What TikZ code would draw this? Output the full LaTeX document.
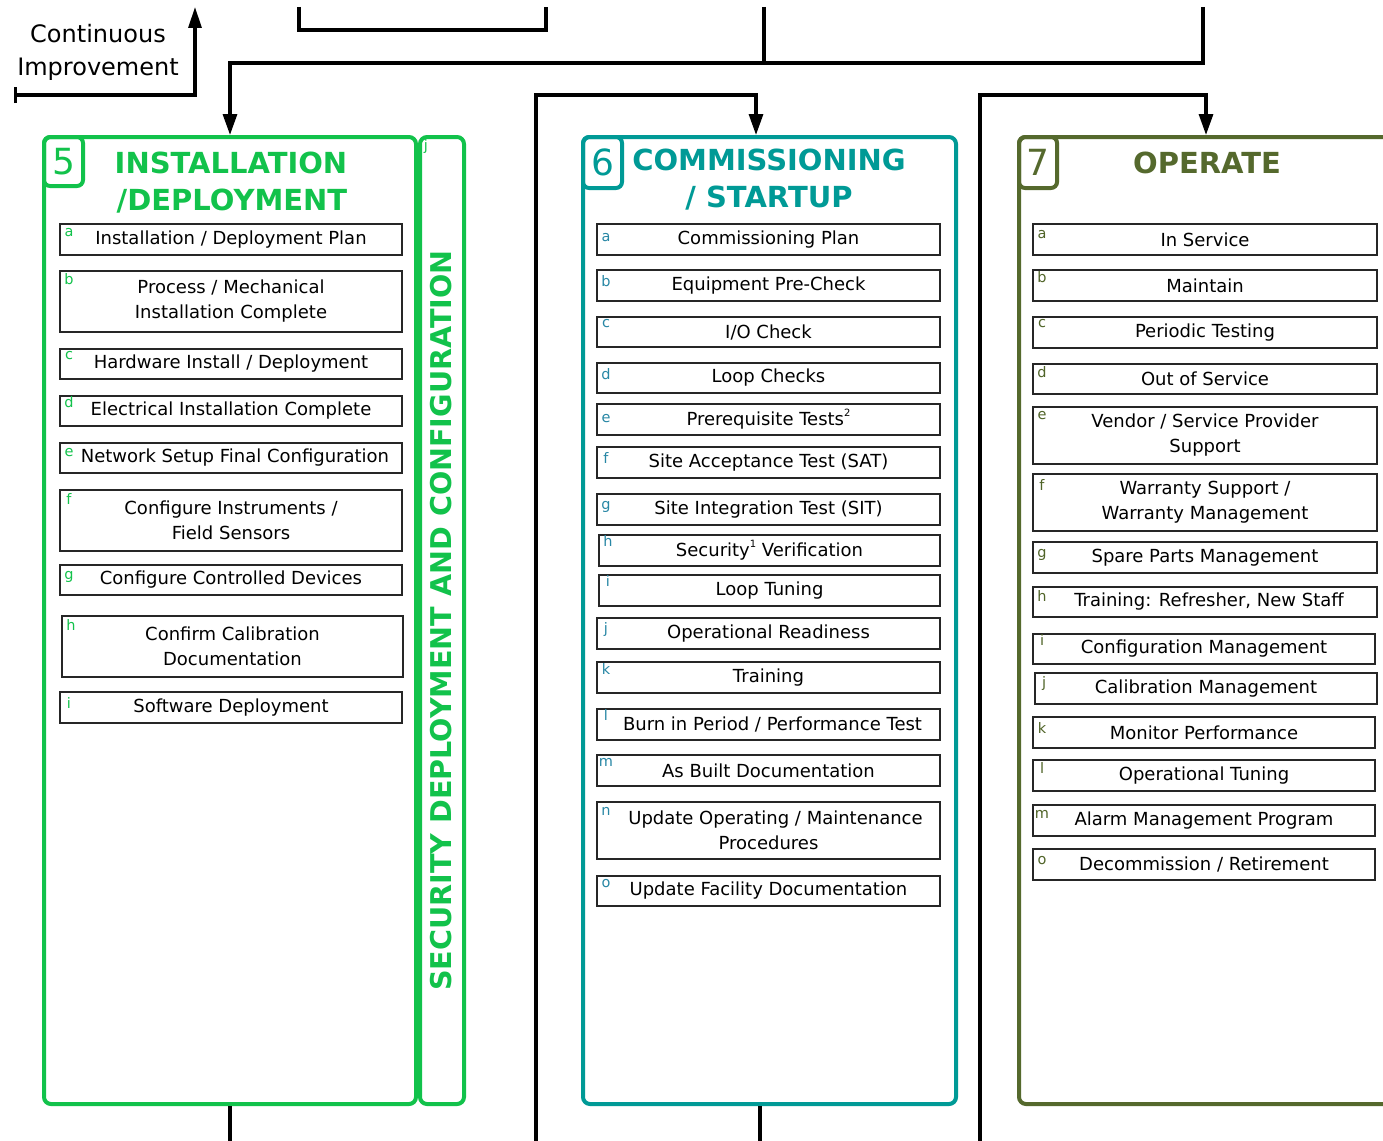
\documentclass[tikz,border=0pt]{standalone}
\usepackage{fontspec}
\setmainfont{DejaVu Sans}
\usetikzlibrary{arrows.meta,calc}
\definecolor{cgreen}{RGB}{18,194,75}
\definecolor{cteal}{RGB}{0,154,150}
\definecolor{colive}{RGB}{85,105,45}
\definecolor{lteal}{RGB}{40,135,165}
\definecolor{lolive}{RGB}{80,100,40}
\newcommand\itemfont{\fontsize{18}{25}\selectfont}
\newcommand\headfont{\fontsize{29}{37}\selectfont\bfseries}
\newcommand\supr[1]{\raisebox{0.5em}{\fontsize{10}{10}\selectfont #1}}
\newcommand\mkitem[8]{%
  \node[itembox, minimum width={(#4-#2)*1pt}, minimum height={(#5-#3)*1pt}] (#1) at ({(#2+#4)/2},{(#3+#5)/2}) {#8};
  \node[lettr] (#1l) at ({#2+9},{#3+#7}) {#6};
}
\begin{document}
\begin{tikzpicture}[x=1pt,y=-1pt,
  itembox/.style={draw=black!85, line width=1.5pt, inner sep=0pt, align=center, font=\itemfont},
  lettr/.style={anchor=mid, inner sep=0pt, font=\fontsize{14.5}{14.5}\selectfont},
  bigbox/.style={draw, line width=4pt, rounded corners=7pt, inner sep=0pt},
  numbox/.style={draw, line width=4pt, rounded corners=6pt, inner sep=0pt, font=\fontsize{36}{36}\selectfont},
  conn/.style={draw=black, line width=3.2pt},
  arr/.style={-{Triangle[length=21pt,width=14pt]}},
  head/.style={anchor=base, font=\headfont, inner sep=0pt},
]
\useasboundingbox (0,0) rectangle (1383,1140);
\clip (0,0) rectangle (1383,1140);
\fill[white] (0,0) rectangle (1383,1140);

% ---------- column 5 ----------
\node[bigbox, draw=cgreen, minimum width=372pt, minimum height=967pt] (box5) at (230,620.5) {};
\node[bigbox, draw=cgreen, minimum width=44pt, minimum height=967pt] (side5) at (442,620.5) {};
\node[numbox, draw=cgreen, text=cgreen, minimum width=39pt, minimum height=49pt] (n5) at (63.5,161.5) {5};
\node[head, text=cgreen] (h5a) at (231,173) {INSTALLATION};
\node[head, text=cgreen] (h5b) at (232,210) {/DEPLOYMENT};
\node[lettr, text=cgreen] (j5) at (426,148) {j};
\node[rotate=90, text=cgreen, font=\fontsize{28.6}{28.6}\selectfont\bfseries, inner sep=0pt] (sec) at (441,620.5) {SECURITY DEPLOYMENT AND CONFIGURATION};
\begin{scope}[lettr/.append style={text=cgreen}]
\mkitem{a5}{60}{224}{402}{255}{a}{10}{Installation / Deployment Plan}
\mkitem{b5}{60}{271}{402}{332}{b}{11}{Process / Mechanical\\Installation Complete}
\mkitem{c5}{60}{349}{402}{379}{c}{8}{Hardware Install / Deployment}
\mkitem{d5}{60}{396}{402}{426}{d}{9}{Electrical Installation Complete}
\mkitem{e5}{60}{443}{402}{473}{e}{11}{\hspace{8pt}Network Setup Final Configuration}
\mkitem{f5}{60}{490}{402}{551}{f}{12}{Configure Instruments /\\Field Sensors}
\mkitem{g5}{60}{565}{402}{595}{g}{12}{Configure Controlled Devices}
\mkitem{h5}{62}{616}{403}{677}{h}{12}{Confirm Calibration\\Documentation}
\mkitem{i5}{60}{692}{402}{723}{i}{14}{Software Deployment}
\end{scope}

% ---------- column 6 ----------
\node[bigbox, draw=cteal, minimum width=373pt, minimum height=967pt] (box6) at (769.5,620.5) {};
\node[numbox, draw=cteal, text=cteal, minimum width=39pt, minimum height=51pt] (n6) at (602.5,162.5) {6};
\node[head, text=cteal] (h6a) at (769,170) {COMMISSIONING};
\node[head, text=cteal] (h6b) at (769,207) {/ STARTUP};
\begin{scope}[lettr/.append style={text=lteal}]
\mkitem{a6}{597}{224}{940}{255}{a}{15}{Commissioning Plan}
\mkitem{b6}{597}{270}{940}{301}{b}{14}{Equipment Pre-Check}
\mkitem{c6}{597}{317}{940}{347}{c}{8}{I/O Check}
\mkitem{d6}{597}{363}{940}{393}{d}{14}{Loop Checks}
\mkitem{e6}{597}{404}{940}{435}{e}{16}{Prerequisite Tests\supr{2}}
\mkitem{f6}{597}{447}{940}{478}{f}{14}{Site Acceptance Test (SAT)}
\mkitem{g6}{597}{494}{940}{525}{g}{13}{Site Integration Test (SIT)}
\mkitem{h6}{599}{535}{940}{566}{h}{9}{Security\supr{1} Verification}
\mkitem{i6}{599}{575}{940}{606}{i}{9}{Loop Tuning}
\mkitem{j6}{597}{618}{940}{649}{j}{13}{Operational Readiness}
\mkitem{k6}{597}{662}{940}{693}{k}{10}{Training}
\mkitem{l6}{597}{709}{940}{740}{l}{9}{\hspace{8pt}Burn in Period / Performance Test}
\mkitem{m6}{597}{755}{940}{786}{m}{9}{As Built Documentation}
\mkitem{n6}{597}{802}{940}{859}{n}{11}{\hspace{14pt}Update Operating / Maintenance\\Procedures}
\mkitem{o6}{597}{876}{940}{906}{o}{9}{Update Facility Documentation}
\end{scope}

% ---------- column 7 ----------
\node[bigbox, draw=colive, minimum width=420pt, minimum height=967pt] (box7) at (1229,620.5) {};
\node[numbox, draw=colive, text=colive, minimum width=38pt, minimum height=51pt] (n7) at (1038,162.5) {7};
\node[head, text=colive] (h7a) at (1207,173) {OPERATE};
\begin{scope}[lettr/.append style={text=lolive}]
\mkitem{a7}{1033}{224}{1377}{255}{a}{12}{In Service}
\mkitem{b7}{1033}{270}{1377}{301}{b}{10}{Maintain}
\mkitem{c7}{1033}{317}{1377}{348}{c}{8}{Periodic Testing}
\mkitem{d7}{1033}{364}{1377}{394}{d}{11}{Out of Service}
\mkitem{e7}{1033}{407}{1377}{464}{e}{10}{Vendor / Service Provider\\Support}
\mkitem{f7}{1033}{474}{1377}{531}{f}{14}{Warranty Support /\\Warranty Management}
\mkitem{g7}{1033}{542}{1377}{573}{g}{13}{Spare Parts Management}
\mkitem{h7}{1033}{587}{1377}{617}{h}{12}{\hspace{8pt}Training: Refresher, New Staff}
\mkitem{i7}{1033}{634}{1375}{664}{i}{9}{Configuration Management}
\mkitem{j7}{1035}{673}{1377}{704}{j}{12}{Calibration Management}
\mkitem{k7}{1033}{717}{1375}{748}{k}{14}{Monitor Performance}
\mkitem{l7}{1033}{760}{1375}{791}{l}{11}{Operational Tuning}
\mkitem{m7}{1033}{805}{1375}{836}{m}{11}{Alarm Management Program}
\mkitem{o7}{1033}{849}{1375}{880}{o}{13}{Decommission / Retirement}
\end{scope}

% ---------- continuous improvement ----------
\node[anchor=base, font=\fontsize{24}{30}\selectfont, inner sep=0pt] (ci1) at (98,42) {Continuous};
\node[anchor=base, font=\fontsize{24}{30}\selectfont, inner sep=0pt] (ci2) at (98,75) {Improvement};
\coordinate (ciL) at (14,95);
\coordinate (ciT) at (195,7);
\draw[conn, {Bar[width=16pt]}-{Triangle[length=21pt,width=13pt]}] (ciL) -| (ciT);

% ---------- top connectors ----------
\coordinate (brA) at (299,7);
\coordinate (brB) at (546,7);
\draw[conn] (brA) |- (546,30) -- (brB);
\coordinate (tM) at (764,7);
\coordinate (tR) at (1203,7);
\coordinate (jn) at (764,63);
\draw[conn] (tM) -- (jn);
\draw[conn, arr] (tR) |- (230,63) -- (box5.north);
\coordinate (f6) at (536,1141);
\coordinate (k6) at (756,95);
\draw[conn, arr] (f6) |- (k6) -- (k6 |- box6.north);
\coordinate (f7) at (980,1141);
\coordinate (k7) at (1206,95);
\draw[conn, arr] (f7) |- (k7) -- (k7 |- box7.north);

% ---------- bottom connectors ----------
\coordinate (b5) at (230,1141);
\draw[conn] (box5.south) -- (b5);
\coordinate (b6) at (760,1141);
\draw[conn] (box6.south -| b6) -- (b6);
\end{tikzpicture}
\end{document}
